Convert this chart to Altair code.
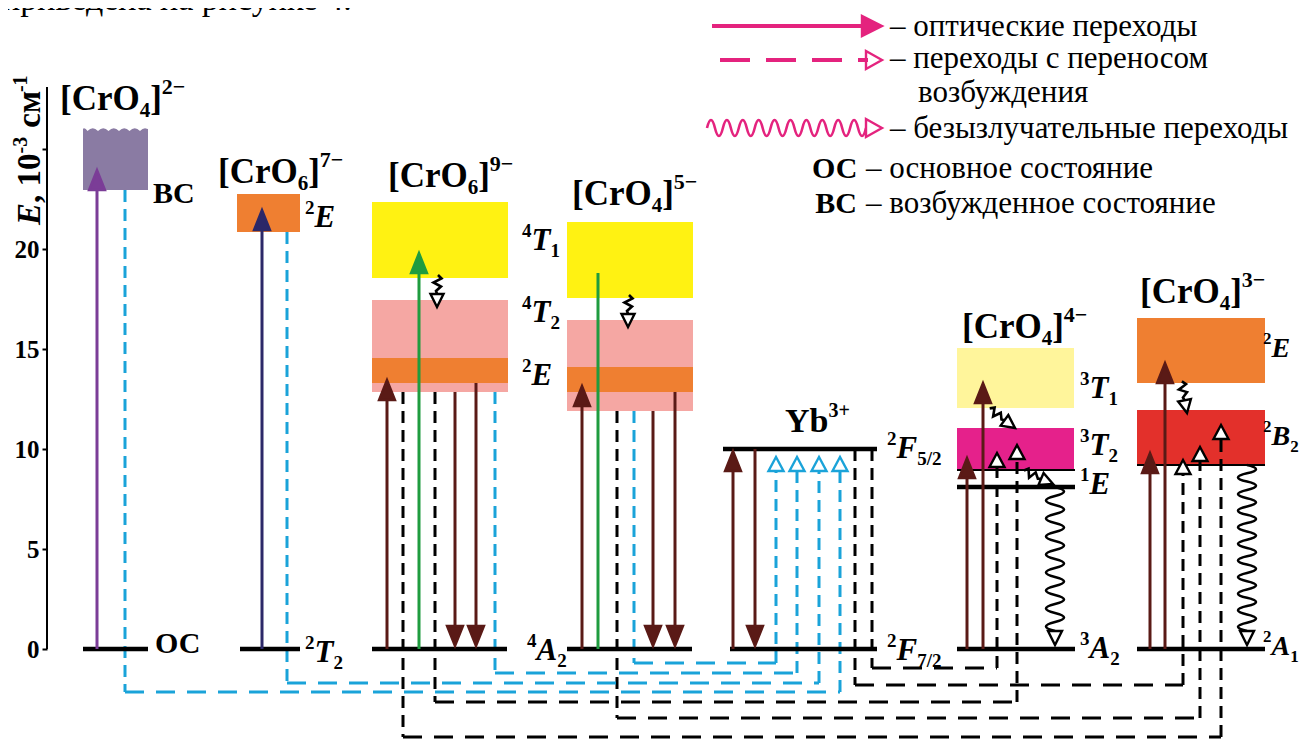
import altair as alt
import pandas as pd

FONT = "Liberation Serif, Times New Roman, Times, DejaVu Serif, serif"
X_DOMAIN = [47, 1304]          # horizontal diagram units
E_DOMAIN = [-4.7, 32.05]       # energy, 10^3 cm^-1
PX_PER_E = 20.0

# ---------------- data ----------------
e_ticks = [0, 5, 10, 15, 20, 25]
e_axis_top = 28.1

# energy bands
box_x1 = [83, 237, 372, 372, 372, 567, 567, 567, 957, 957, 1137, 1137]
box_x2 = [148, 300, 508, 508, 508, 693, 693, 693, 1074, 1074, 1265, 1265]
box_lo = [22.95, 20.85, 18.55, 12.85, 13.3, 17.55, 11.9, 12.85, 12.05, 8.95, 13.3, 9.2]
box_hi = [26.1, 22.75, 22.35, 17.45, 14.55, 21.35, 16.45, 14.1, 15.05, 11.05, 16.55, 11.95]
box_col = ["#8a7ba3", "#ef7f31", "#fff212", "#f5a7a3", "#ef7f31", "#fff212",
           "#f5a7a3", "#ef7f31", "#fff59b", "#e5218b", "#ef7f31", "#e3302b"]

# scalloped top of the [CrO4]2- band
scallop_x = [115.5]
scallop_e = [26.1]

# thick levels
lvl_x1 = [83, 240, 372, 567, 730, 723, 957, 957, 1137]
lvl_x2 = [148, 300, 507, 692, 877, 877, 1075, 1075, 1265]
lvl_e = [0, 0, 0, 0, 0, 10.0, 0, 8.1, 0]

# thin band edges
edge_x1 = [957, 1137]
edge_x2 = [1075, 1265]
edge_e = [8.95, 9.2]

BROWN = "#5a1a16"
GREEN = "#1f9c3f"
CYAN = "#1aa3d9"
PURPLE = "#7b3d97"
NAVY = "#2c2868"
MAGENTA = "#e4237e"

# optical transitions (solid arrows)
arr_x = [97, 262, 387, 419, 455, 476, 582, 598, 653, 675, 733, 755, 967, 983, 1150, 1165]
arr_from = [0, 0, 0, 0, 12.85, 13.3, 0, 0, 11.9, 12.85, 0, 10.0, 0, 0, 0, 0]
arr_to = [23.95, 21.95, 13.45, 19.8, 0.15, 0.15, 13.15, 18.8, 0.15, 0.15, 9.9, 0.15, 9.55, 13.3, 9.8, 14.3]
arr_col = [PURPLE, NAVY, BROWN, GREEN, BROWN, BROWN, BROWN, GREEN, BROWN, BROWN,
           BROWN, BROWN, BROWN, BROWN, BROWN, BROWN]
arr_head = [1, 1, 1, 1, 1, 1, 1, 0, 1, 1, 1, 1, 1, 1, 1, 1]

# energy-transfer paths (dashed), last point = arrow tip
cyan_px = [[125, 125, 840, 840], [287, 287, 819, 819], [495, 495, 797, 797], [634, 634, 776, 776]]
cyan_pe = [[22.95, -2.15, -2.15, 9.6], [20.85, -1.7, -1.7, 9.6],
           [12.85, -1.2, -1.2, 9.6], [11.9, -0.7, -0.7, 9.6]]
black_px = [[872, 872, 997, 997], [855, 855, 1183, 1183], [435, 435, 1017, 1017],
            [617, 617, 1200, 1200], [403, 403, 1221, 1221]]
black_pe = [[10.0, -0.95, -0.95, 9.8], [10.0, -1.8, -1.8, 9.45], [12.85, -2.65, -2.65, 10.2],
            [11.9, -3.45, -3.45, 10.1], [12.85, -4.4, -4.4, 11.2]]

# non-radiative (wavy) transitions
wave_x = [1055, 1247]
wave_top = [8.1, 9.2]
wave_tip = [0.2, 0.2]
zz_x = [437, 628, 1015, 1053, 1187]
zz_e = [17.1, 16.1, 11.05, 8.25, 11.8]
zz_ang = [0, 0, 306, 293, 349]

# legend
leg_x1 = [712, 720, 707]
leg_tip = [882, 882, 882]
leg_e = [31.15, 29.45, 26.05]

# labels
title_x = [60, 218, 388, 572, 962, 1140]
title_e = [26.95, 23.3, 23.1, 22.2, 15.55, 17.3]
title_n = ["4", "6", "6", "4", "4", "4"]
title_q = ["2−", "7−", "9−", "5−", "4−", "3−"]

term_x = [305, 305, 522, 522, 522, 527, 887, 887, 1080, 1080, 1080, 1080, 1263, 1263, 1263]
term_e = [21.1, -0.65, 19.95, 16.35, 13.2, -0.55, 9.55, -0.55, 12.55, 9.7, 7.75, -0.45, 14.6, 10.2, -0.3]
term_sup = ["2", "2", "4", "4", "2", "4", "2", "2", "3", "3", "1", "3", "2", "2", "2"]
term_sym = ["E", "T", "T", "T", "E", "A", "F", "F", "T", "T", "E", "A", "E", "B", "A"]
term_sub = ["", "2", "1", "2", "", "2", "5/2", "7/2", "1", "2", "", "2", "", "2", "1"]
term_big = [31, 31, 31, 31, 31, 31, 31, 31, 31, 31, 31, 31, 28, 28, 28]

state_x = [153, 155]
state_e = [22.3, -0.2]
state_t = ["ВС", "ОС"]

leg_text_x = [890, 890, 918, 890, 866, 866]
leg_text_e = [30.65, 29.05, 27.35, 25.55, 23.55, 21.8]
leg_text = ["– оптические переходы", "– переходы с переносом", "возбуждения",
            "– безызлучательные переходы", "– основное состояние", "– возбужденное состояние"]
leg_abbr_right = [857, 857]
leg_abbr_e = [23.55, 21.8]
leg_abbr = ["ОС", "ВС"]

page_text = "приведена на рисунке 4."

# ---------------- helpers ----------------
WB = {'[': 333, ']': 333, 'C': 722, 'r': 444, 'O': 778, 'Y': 722, 'b': 556, '−': 570,
      '+': 570, '/': 278, 'В': 667, 'С': 722, 'О': 778, ' ': 250, ',': 250, '-': 333,
      'с': 444, 'м': 640}
for _d in "0123456789":
    WB[_d] = 500
WBI = {'E': 667, 'T': 611, 'A': 667, 'F': 667, 'B': 667}


def tw(t, kind, size):
    tab = WBI if kind == "bi" else WB
    return sum(tab.get(c, 560) for c in t) * size / 1000.0


text_rows = []
rot_rows = []


def place(x, e, pieces):
    for (t, kind, size, shift) in pieces:
        if t:
            text_rows.append(dict(x=x, e=e + shift / PX_PER_E, t=t, s=size, k=kind))
            x += tw(t, kind, size)


def place_rot(xb, e, pieces):
    for (t, kind, size, shift, gap) in pieces:
        e += gap / PX_PER_E
        rot_rows.append(dict(x=xb - shift, e=e, t=t, s=size, k=kind))
        e += tw(t, kind, size) / PX_PER_E


for x, e, n, q in zip(title_x, title_e, title_n, title_q):
    place(x, e, [("[CrO", "b", 35, 0), (n, "b", 21, -7), ("]", "b", 35, 0), (q, "b", 22, 16)])
for x, e, sp, sy, sb, bg in zip(term_x, term_e, term_sup, term_sym, term_sub, term_big):
    sm = round(bg * 0.61)
    place(x, e, [(sp, "b", sm, 13), (sy, "bi", bg, 0), (sb, "b", sm, -7)])
place(785, 10.85, [("Yb", "b", 34, 0), ("3+", "b", 20, 15)])
for x, e, t in zip(state_x, state_e, state_t):
    place(x, e, [(t, "b", 30, 0)])
for x, e, t in zip(leg_abbr_right, leg_abbr_e, leg_abbr):
    place(x - tw(t, "b", 30), e, [(t, "b", 30, 0)])
for x, e, t in zip(leg_text_x, leg_text_e, leg_text):
    text_rows.append(dict(x=x, e=e, t=t, s=31, k="r"))
text_rows.append(dict(x=2, e=31.95, t=page_text, s=34, k="r"))
place_rot(40, 21.2, [("E", "bi", 33, 0, 0), (", 10", "b", 33, 0, 0), ("-3", "b", 20, 13, 0),
                     ("см", "b", 33, 0, 9), ("-1", "b", 20, 13, 0)])

texts = pd.DataFrame(text_rows)
rtexts = pd.DataFrame(rot_rows)

YAXIS = alt.Axis(values=e_ticks, labelExpr="datum.value == 25 ? '' : datum.label",
                 labelFont=FONT, labelFontWeight="bold", labelFontSize=25, labelColor="black",
                 tickColor="black", tickWidth=2, tickSize=5, labelPadding=3,
                 domain=False, grid=False, title=None)


def X(f="x"):
    return alt.X(f"{f}:Q", scale=alt.Scale(domain=X_DOMAIN, nice=False, zero=False), axis=None)


def Y(f="e"):
    return alt.Y(f"{f}:Q", scale=alt.Scale(domain=E_DOMAIN, nice=False, zero=False), axis=YAXIS)


def vwave(len_px, amp_px=9.0, period_px=17.0):
    n = max(1, round(len_px / period_px))
    h = len_px / (2 * n) / 10.0
    a = 2 * amp_px / 10.0
    parts = ["M0,0"]
    sg = 1
    for _ in range(2 * n):
        parts.append(f"q{sg * a:.3f},{h / 2:.3f} 0,{h:.3f}")
        sg = -sg
    return " ".join(parts)


def hwave(len_px, amp_px=8.0, period_px=16.0):
    n = max(1, round(len_px / period_px))
    h = len_px / (2 * n) / 10.0
    a = 2 * amp_px / 10.0
    parts = ["M0,0"]
    sg = -1
    for _ in range(2 * n):
        parts.append(f"q{h / 2:.3f},{sg * a:.3f} {h:.3f},0")
        sg = -sg
    return " ".join(parts)


HEAD_UP = "M0,0L-0.8,2L0.8,2Z"
HEAD_DOWN = "M0,0L-0.8,-2L0.8,-2Z"
OPEN_UP = "M0,0L-0.75,1.4L0.75,1.4Z"
OPEN_DOWN = "M0,0L-0.7,-1.4L0.7,-1.4Z"
HEAD_RIGHT = "M0,0L-2,-1L-2,1Z"
OPEN_RIGHT = "M0,0L-1.6,-0.9L-1.6,0.9Z"
ZIGZAG = "M0.1,-3.2L0.45,-2.85L-0.35,-2.45L0.4,-2.05L-0.1,-1.6L0,-1.3"
ZZ_HEAD = "M0,0L-0.65,-1.3L0.65,-1.3Z"
SCALLOP = ("M-3.5,-1.2L3.5,-1.2L3.5,0.45Q2.975,-0.15 2.45,0.4Q1.925,-0.15 1.4,0.4"
           "Q0.875,-0.15 0.35,0.4Q-0.175,-0.15 -0.7,0.4Q-1.225,-0.15 -1.75,0.4"
           "Q-2.275,-0.15 -2.8,0.4Q-3.15,-0.15 -3.5,0.45Z")

# ---------------- tables ----------------
boxes = pd.DataFrame(dict(x=box_x1, x2=box_x2, e=box_lo, e2=box_hi, c=box_col))
levels = pd.DataFrame(dict(x=lvl_x1, x2=lvl_x2, e=lvl_e))
edges = pd.DataFrame(dict(x=edge_x1, x2=edge_x2, e=edge_e))

arr_rows, sym_rows, open_rows = [], [], []
for x, a, b, c, h in zip(arr_x, arr_from, arr_to, arr_col, arr_head):
    d = 1 if b > a else -1
    end = b - d * 0.5 if h else b
    arr_rows.append(dict(x=x, e=a, e2=end, c=c))
    if h:
        sym_rows.append(dict(x=x, e=b, shp=HEAD_UP if d > 0 else HEAD_DOWN, fc=c, sc=c, ang=0))
arrows = pd.DataFrame(arr_rows)

seg_rows = []
for colr, pxs, pes in ((CYAN, cyan_px, cyan_pe), ("black", black_px, black_pe)):
    for xs, es in zip(pxs, pes):
        n = len(xs)
        for i in range(n - 1):
            x1, e1, x2, e2 = xs[i], es[i], xs[i + 1], es[i + 1]
            if i == n - 2:
                e2 = e2 - 0.7 if e2 > e1 else e2 + 0.7
            seg_rows.append(dict(x=x1, x2=x2, e=e1, e2=e2, c=colr,
                                 o="v" if x1 == x2 else "h"))
        sym_rows.append(dict(x=xs[-1], e=es[-1], shp=OPEN_UP, fc="white", sc=colr, ang=0))
segs = pd.DataFrame(seg_rows)

for x, top, tip in zip(wave_x, wave_top, wave_tip):
    L = (top - tip - 0.7) * PX_PER_E
    open_rows.append(dict(x=x, e=top, shp=vwave(L), sc="black", ang=0))
    sym_rows.append(dict(x=x, e=tip, shp=OPEN_DOWN, fc="white", sc="black", ang=0))
for x, e, a in zip(zz_x, zz_e, zz_ang):
    open_rows.append(dict(x=x, e=e, shp=ZIGZAG, sc="black", ang=a))
    sym_rows.append(dict(x=x, e=e, shp=ZZ_HEAD, fc="white", sc="black", ang=a))

# legend symbols
leg_lines = pd.DataFrame(dict(x=[leg_x1[0]], x2=[leg_tip[0] - 18], e=[leg_e[0]]))
leg_dash = pd.DataFrame(dict(x=[leg_x1[1]], x2=[leg_tip[1] - 14], e=[leg_e[1]]))
sym_rows.append(dict(x=leg_tip[0], e=leg_e[0], shp=HEAD_RIGHT, fc=MAGENTA, sc=MAGENTA, ang=0))
sym_rows.append(dict(x=leg_tip[1], e=leg_e[1], shp=OPEN_RIGHT, fc="white", sc=MAGENTA, ang=0))
sym_rows.append(dict(x=leg_tip[2], e=leg_e[2], shp=OPEN_RIGHT, fc="white", sc=MAGENTA, ang=0))
open_rows.append(dict(x=leg_x1[2], e=leg_e[2], shp=hwave(leg_tip[2] - 16 - leg_x1[2]),
                      sc=MAGENTA, ang=0))

syms = pd.DataFrame(sym_rows)
opens = pd.DataFrame(open_rows)
scallop = pd.DataFrame(dict(x=scallop_x, e=scallop_e, shp=[SCALLOP]))
axis_line = pd.DataFrame(dict(e=[0.0], e2=[e_axis_top]))

# ---------------- layers ----------------
L = []
L.append(alt.Chart(boxes).mark_rect().encode(x=X(), x2="x2:Q", y=Y(), y2="e2:Q",
                                             color=alt.Color("c:N", scale=None)))
L.append(alt.Chart(scallop).mark_point(filled=True, opacity=1, size=400, color="white",
                                       strokeWidth=0)
         .encode(x=X(), y=Y(), shape=alt.Shape("shp:N", scale=None)))
L.append(alt.Chart(axis_line).mark_rule(color="black", strokeWidth=2)
         .encode(x=alt.value(0), y=Y(), y2="e2:Q"))
L.append(alt.Chart(edges).mark_rule(color="black", strokeWidth=2)
         .encode(x=X(), x2="x2:Q", y=Y()))
for o, dash in (("v", [12, 7]), ("h", [19, 12])):
    L.append(alt.Chart(segs[segs.o == o]).mark_rule(strokeWidth=3, strokeDash=dash)
             .encode(x=X(), x2="x2:Q", y=Y(), y2="e2:Q", color=alt.Color("c:N", scale=None)))
L.append(alt.Chart(levels).mark_rule(color="black", strokeWidth=4.5)
         .encode(x=X(), x2="x2:Q", y=Y()))
L.append(alt.Chart(arrows).mark_rule(strokeWidth=3)
         .encode(x=X(), y=Y(), y2="e2:Q", color=alt.Color("c:N", scale=None)))
L.append(alt.Chart(opens).mark_point(filled=False, opacity=1, size=400, strokeWidth=2.6)
         .encode(x=X(), y=Y(), shape=alt.Shape("shp:N", scale=None),
                 stroke=alt.Stroke("sc:N", scale=None), angle=alt.Angle("ang:Q", scale=None)))
L.append(alt.Chart(syms).mark_point(filled=True, opacity=1, size=400, strokeWidth=2.4)
         .encode(x=X(), y=Y(), shape=alt.Shape("shp:N", scale=None),
                 fill=alt.Fill("fc:N", scale=None), stroke=alt.Stroke("sc:N", scale=None),
                 angle=alt.Angle("ang:Q", scale=None)))
L.append(alt.Chart(leg_lines).mark_rule(color=MAGENTA, strokeWidth=4)
         .encode(x=X(), x2="x2:Q", y=Y()))
L.append(alt.Chart(leg_dash).mark_rule(color=MAGENTA, strokeWidth=4, strokeDash=[30, 16])
         .encode(x=X(), x2="x2:Q", y=Y()))

for kind, weight, style in (("b", "bold", "normal"), ("bi", "bold", "italic"),
                            ("r", "normal", "normal")):
    sub = texts[texts.k == kind]
    L.append(alt.Chart(sub).mark_text(font=FONT, fontWeight=weight, fontStyle=style,
                                      align="left", baseline="alphabetic", color="black")
             .encode(x=X(), y=Y(), text="t:N", size=alt.Size("s:Q", scale=None)))
    rsub = rtexts[rtexts.k == kind]
    if len(rsub):
        L.append(alt.Chart(rsub).mark_text(font=FONT, fontWeight=weight, fontStyle=style,
                                           align="left", baseline="alphabetic", color="black",
                                           angle=270)
                 .encode(x=X(), y=Y(), text="t:N", size=alt.Size("s:Q", scale=None)))

chart = (alt.layer(*L)
         .properties(width=1257, height=735, background="white",
                     padding={"left": 39, "top": 0, "right": 0, "bottom": 0},
                     autosize=alt.AutoSizeParams(type="none"))
         .configure_view(stroke=None))

chart.save("out.html", embed_options={"renderer": "svg", "actions": False})
